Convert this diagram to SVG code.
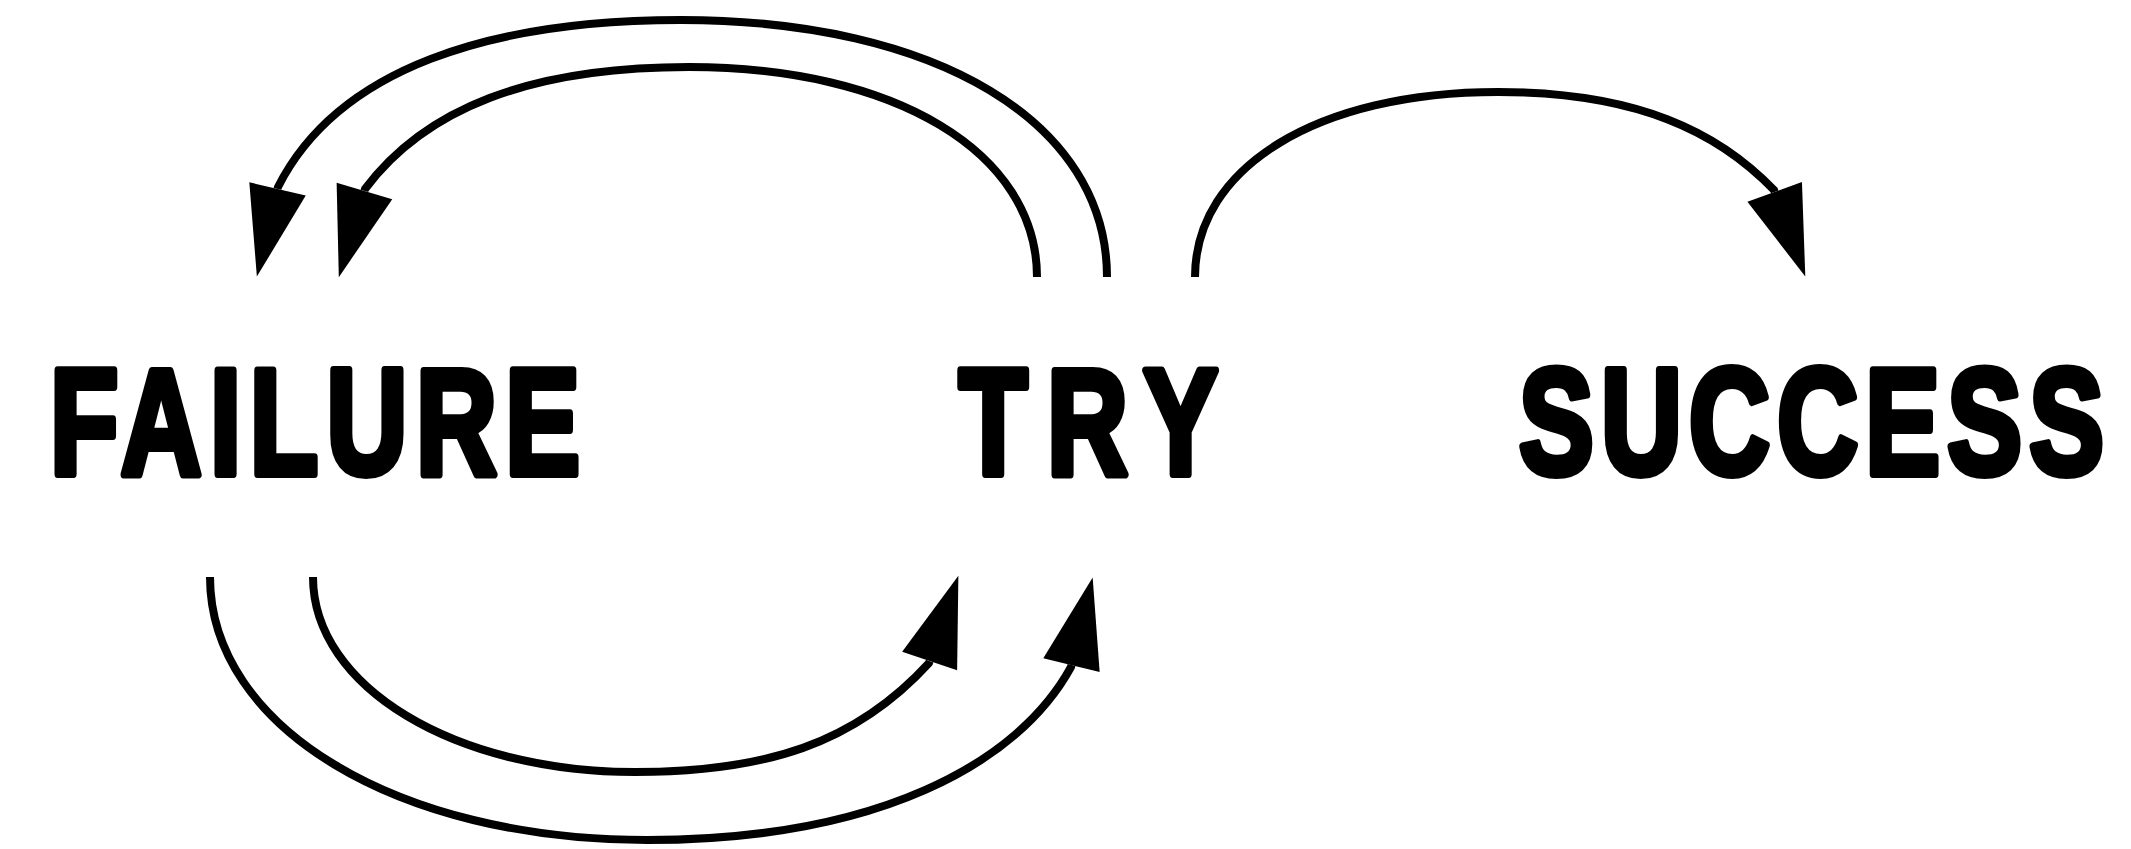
<svg xmlns="http://www.w3.org/2000/svg" width="2131" height="849" viewBox="0 0 2131 849">
  <style>
    .lbl { font-family: "Liberation Sans", Arial, sans-serif; font-weight: bold; font-size: 112px; fill: #000; stroke: #000; stroke-width: 6; stroke-linejoin: round; }
    .edge { fill: none; stroke: #000; stroke-width: 8; stroke-linecap: butt; }
  </style>
  <defs>
    <marker id="ah" markerUnits="userSpaceOnUse" viewBox="0 0 100 60" markerWidth="100" markerHeight="60" refX="0" refY="30" orient="auto" overflow="visible">
      <path d="M0,1 L90,30 L0,59 Z" fill="#000"/>
    </marker>
  </defs>
  <rect width="2131" height="849" fill="#fff"/>
  <g id="connectors">
    <path class="edge" d="M1107,277 C1107,122 936,20 681,20 C491,20 338,68 278,187 l-0.46,1.95" marker-end="url(#ah)"/>
    <path class="edge" d="M1037,277 C1037,152 894,67 689,67 C529,67 425,109 365,189 l-0.57,1.92" marker-end="url(#ah)"/>
    <path class="edge" d="M1195,277 C1195,167 1318,92 1498,92 C1638,92 1718.8,132.4 1774,190 l0.68,1.88" marker-end="url(#ah)"/>
    <path class="edge" d="M313,577 C313,687 455,772 635,772 C765,772 855,744 929,663 l0.64,-1.9" marker-end="url(#ah)"/>
    <path class="edge" d="M210,577 C210,727 397,840 647,840 C877,840 1018,764 1071,667 l0.47,-1.94" marker-end="url(#ah)"/>
  </g>
  <g id="node-failure">
    <text class="lbl" transform="translate(50,474) scale(1,1.34)" textLength="530" lengthAdjust="spacing">FAILURE</text>
  </g>
  <g id="node-try">
    <text class="lbl" transform="translate(959,474) scale(1,1.34)" textLength="259" lengthAdjust="spacing">TRY</text>
  </g>
  <g id="node-success">
    <text class="lbl" transform="translate(1519,474) scale(1,1.34)" textLength="585" lengthAdjust="spacing">SUCCESS</text>
  </g>
</svg>
